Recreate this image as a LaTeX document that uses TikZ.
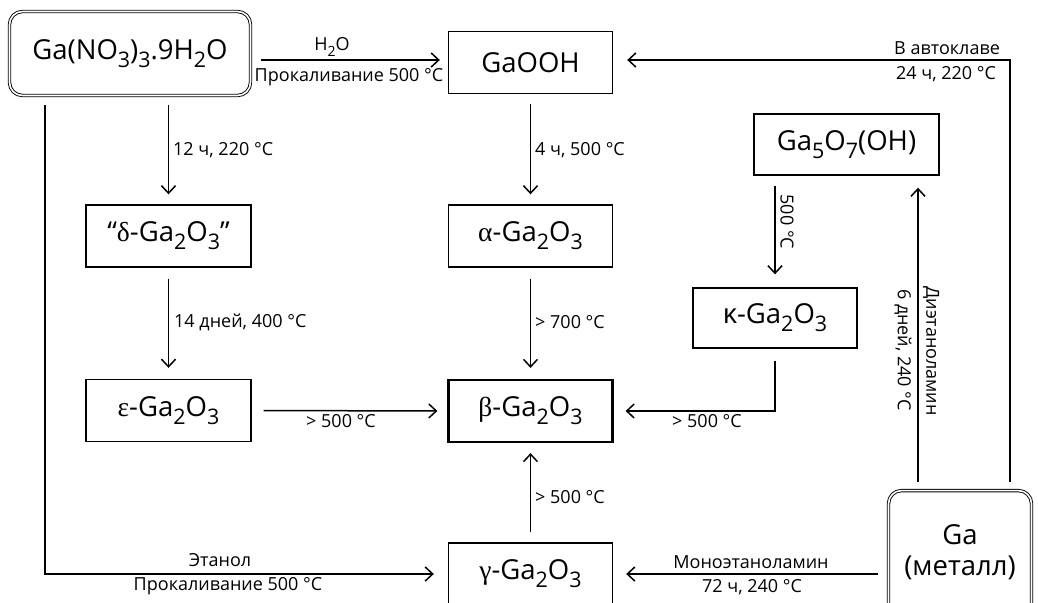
\documentclass[tikz,border=0pt]{standalone}
\usepackage{fontspec}
\setmainfont{Open Sans}
\newfontfamily\gr{Liberation Serif}
\usetikzlibrary{arrows.meta,calc}
\newcommand\sbs[1]{\raisebox{-0.3em}{\scalebox{0.78}{#1}}}
\begin{document}
\begin{tikzpicture}[x=1pt,y=-1pt,
  box/.style={draw,line width=1.4pt,minimum width=164pt,minimum height=62pt,inner sep=0pt,font=\fontsize{27.5}{31}\selectfont},
  dbox/.style={draw,double,double distance=1.6pt,line width=0.9pt,rounded corners=13pt,inner sep=0pt,font=\fontsize{27.5}{31}\selectfont},
  arr/.style={line width=1.5pt,-{Straight Barb[length=7.5pt,width=14pt,line width=1.5pt]}},
  lbl/.style={font=\fontsize{18}{21}\selectfont,inner sep=0pt},
  btxt/.style={font=\fontsize{27.5}{31}\selectfont,inner sep=0pt,align=center}]
\useasboundingbox (0,0) rectangle (1038,602);
\clip (0,0) rectangle (1038,602);
% boxes
\node[dbox,minimum width=241pt,minimum height=84pt] (gn) at (130,53.5) {Ga(NO\sbs{3})\sbs{3}.9H\sbs{2}O};
\node[box] (gaooh) at (530.5,62.5) {GaOOH};
\node[box,minimum width=185pt,minimum height=61pt] (g57) at (846.5,144.5) {Ga\sbs{5}O\sbs{7}(OH)};
\node[box,minimum width=165pt] (delta) at (168.5,236) {“{\gr δ}-Ga\sbs{2}O\sbs{3}”};
\node[box] (alpha) at (530.5,236) {{\gr α}-Ga\sbs{2}O\sbs{3}};
\node[box,minimum height=60pt] (kappa) at (775,318) {κ-Ga\sbs{2}O\sbs{3}};
\node[box,minimum width=165pt] (eps) at (168.5,410.5) {{\gr ε}-Ga\sbs{2}O\sbs{3}};
\node[box,line width=2.2pt] (beta) at (530.5,411) {{\gr β}-Ga\sbs{2}O\sbs{3}};
\node[box] (gamma) at (530.5,574) {{\gr γ}-Ga\sbs{2}O\sbs{3}};
\node[dbox,minimum width=143pt,minimum height=130pt] (ga) at (960,555.6) {};
\node[btxt] (gatxt) at (960,552.5) {Ga\\(металл)};
% free ends
\coordinate (acS) at (1010,482);
\coordinate (dS) at (918,482);
\coordinate (eS) at (45,105);
\coordinate (mS) at (878,574);
% connectors
\draw[arr] ([xshift=10pt,yshift=-6.5pt]gn.east) -- ([xshift=-8pt,yshift=2.5pt]gaooh.west);
\draw[arr] (acS) |- ([xshift=14pt,yshift=2.5pt]gaooh.east);
\draw[arr,shorten <=9.5pt,shorten >=10pt] (delta.north |- gn.south) -- (delta.north);
\draw[arr,shorten <=10pt,shorten >=10pt] (gaooh.south) -- (alpha.north);
\draw[arr,shorten <=11pt,shorten >=11pt] (delta.south) -- (eps.north);
\draw[arr,shorten <=11pt,shorten >=11pt] (alpha.south) -- (beta.north);
\draw[arr,shorten <=12pt,shorten >=10pt] (eps.east) -- (beta.west);
\draw[arr,shorten <=10pt,shorten >=13pt] (kappa.north |- g57.south) -- (kappa.north);
\draw[arr,shorten <=12pt,shorten >=12pt] (kappa.south) |- (beta.east);
\draw[arr,shorten >=12pt] (dS) -- (dS |- g57.south);
\draw[arr,shorten >=14pt] (eS) |- (gamma.west);
\draw[arr,shorten >=13pt] (mS) -- (gamma.east);
\draw[arr,shorten <=10pt,shorten >=10pt] (gamma.north) -- (beta.south);
% labels
\node[lbl] (l1) at (332,47) {H\sbs{2}O};
\node[lbl] (l2) at (349,77) {Прокаливание 500 °C};
\node[lbl,anchor=west] (l3) at (173,150) {12 ч, 220 °C};
\node[lbl,anchor=west] (l4) at (535,150) {4 ч, 500 °C};
\node[lbl] (l5) at (947,48) {В автоклаве};
\node[lbl] (l6) at (946,74) {24 ч, 220 °C};
\node[lbl,rotate=-90] (l7) at (787,222) {500 °C};
\node[lbl,anchor=west] (l8) at (174,322) {14 дней, 400 °C};
\node[lbl,anchor=west] (l9) at (535,322) {> 700 °C};
\node[lbl] (l10) at (341,421) {> 500 °C};
\node[lbl] (l11) at (707,421) {> 500 °C};
\node[lbl,rotate=-90] (l12) at (931,351) {Диэтаноламин};
\node[lbl,rotate=-90] (l13) at (903,350) {6 дней, 240 °C};
\node[lbl,anchor=west] (l14) at (535,497) {> 500 °C};
\node[lbl] (l15) at (751,562) {Моноэтаноламин};
\node[lbl] (l16) at (752,587) {72 ч, 240 °C};
\node[lbl] (l17) at (220,560) {Этанол};
\node[lbl] (l18) at (228,586) {Прокаливание 500 °C};
\end{tikzpicture}
\end{document}
